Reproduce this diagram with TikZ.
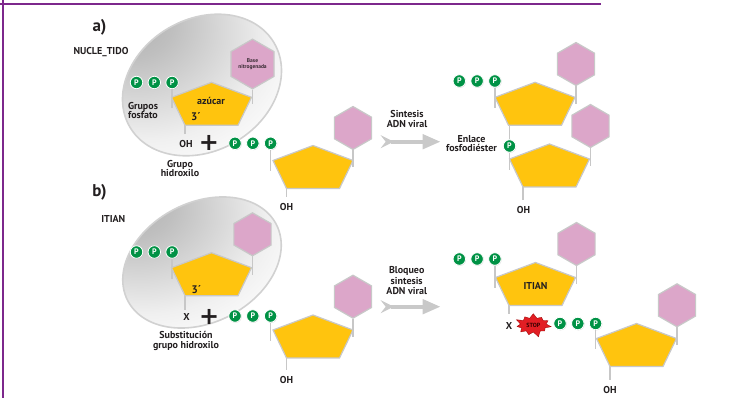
\documentclass[tikz,border=0pt]{standalone}
\usepackage{fontspec}
\setmainfont{PT Sans}
\newfontfamily\simbolo{DejaVu Sans}
\usepackage{tikz}
\usetikzlibrary{shapes.geometric, shapes.symbols, arrows.meta, positioning, calc, shadows}

\definecolor{moradoMarco}{RGB}{125,40,140}
\definecolor{verdeFosf}{RGB}{0,146,69}
\definecolor{amarilloAz}{RGB}{255,196,14}
\definecolor{rosaBase}{RGB}{220,166,201}
\definecolor{bordeGris}{RGB}{200,200,200}
\definecolor{textoOsc}{RGB}{35,31,32}
\definecolor{rojoStop}{RGB}{226,30,36}

% capas: capsula al fondo, enlaces grises debajo de las piezas
\pgfdeclarelayer{capsula}
\pgfdeclarelayer{enlaces}
\pgfsetlayers{capsula,enlaces,main}

\pgfdeclareradialshading{brillo}{\pgfpoint{-22bp}{24bp}}{%
  color(0bp)=(black!32); color(12bp)=(black!25); color(34bp)=(black!6);
  color(46bp)=(white); color(120bp)=(white)}

\begin{document}
\begin{tikzpicture}[x=1pt, y=-1pt,
  fosf/.style={circle, fill=verdeFosf, draw=white, line width=0.8pt,
               minimum size=12.5pt, inner sep=0pt, text=white,
               font=\fontsize{8}{8}\selectfont\bfseries,
               drop shadow={shadow xshift=0.5pt, shadow yshift=-0.6pt, opacity=0.3}},
  base/.style={regular polygon, regular polygon sides=6, regular polygon rotate=30,
               minimum size=43pt, inner sep=0pt, fill=rosaBase, draw=bordeGris,
               line width=1.2pt},
  etiq/.style={text=textoOsc, font=\fontsize{10}{9.5}\selectfont\bfseries,
               align=center, inner sep=1pt},
  titulo/.style={etiq, font=\fontsize{17}{17}\selectfont\bfseries},
  mas/.style={etiq, font=\fontsize{24}{24}\selectfont\simbolo\bfseries},
  enlace/.style={draw=black!22, line width=1.5pt},
  flecha/.style={draw=black!21, line width=4.3pt,
                 {Stealth[reversed, length=13pt, width=13pt, inset=5pt]}-{Triangle[length=18pt, width=14pt]}},
  marco/.style={draw=moradoMarco, line width=2.3pt},
  capsula/.style={draw=black!18, line width=1.6pt, shading=brillo},
  parada/.style={starburst, starburst points=11, starburst point height=6pt,
                 fill=rojoStop, draw=red!60!black, line width=0.3pt,
                 minimum width=38pt, minimum height=26pt, inner sep=0pt,
                 text=black!80!red, font=\fontsize{6}{6}\selectfont\bfseries},
  azucar/.pic={
    \filldraw[fill=amarilloAz, draw=bordeGris, line width=1.2pt]
      (0,-22) -- (40,-7) -- (26.5,21) -- (-26.5,21) -- (-40,-7) -- cycle;
    \coordinate (-c) at (0,0);
    \coordinate (-lo) at (-40,4);
    \coordinate (-bl) at (-26.5,21);
  }
]
\useasboundingbox (0,0) rectangle (756,398);

% marco morado
\draw[marco] (0,4) -- (601,4);
\draw[marco] (2.7,0) -- (2.7,398);

%% ---------------- a) ----------------
\node[titulo] (letraA) at (99.5,27) {a)};
\node[etiq] (nucleo) at (101,52) {NUCLE\_TIDO};

\begin{pgfonlayer}{capsula}
  \path[capsula, shift={(202,85)}, rotate=30] (0,0) ellipse [x radius=83.5, y radius=66];
\end{pgfonlayer}

% nucleotido dentro de la capsula
\node[fosf] (pa1) at (136.5,82.5) {P};
\node[fosf, right=4.5pt of pa1] (pa2) {P};
\node[fosf, right=4.5pt of pa2] (pa3) {P};
\pic (az1) at (211.5,104.3) {azucar};
\node[base, etiq, font=\fontsize{5.5}{6}\selectfont\bfseries, text=black!75!rosaBase] (hx1) at (252.5,64) {Base\\nitrogenada};
\node[etiq] (azu) at (211,101) {azúcar};
\node[etiq, font=\fontsize{11}{11}\selectfont\bfseries] (tres1) at (196,117) {3´};
\node[etiq] (grupos) at (143,110.5) {Grupos\\fosfato};
\node[etiq] (oh1) at (186,144.3) {OH};
\node[mas] (masA) at (209,143.3) {+};
\node[etiq] (hidrox) at (180,168.5) {Grupo\\hidroxilo};

% nucleotido libre
\node[fosf] (pb1) at (235,143.3) {P};
\node[fosf, right=4.5pt of pb1] (pb2) {P};
\node[fosf, right=4.5pt of pb2] (pb3) {P};
\pic (az2) at (313,167.5) {azucar};
\node[base] (hx2) at (353,128) {};
\node[etiq] (oh2) at (286.5,207.3) {OH};

% flecha de sintesis
\coordinate (fa1) at (380.7,141.7);
\coordinate (fa2) at (440.7,141.7);
\draw[flecha] (fa1) -- (fa2);
\node[etiq] (sint) at (407,119) {Sintesis\\ADN viral};

% cadena resultante
\node[fosf] (pr1) at (459.3,81) {P};
\node[fosf, right=4.5pt of pr1] (pr2) {P};
\node[fosf, right=4.5pt of pr2] (pr3) {P};
\pic (az3) at (535,104.3) {azucar};
\node[base] (hx3) at (576,64) {};
\node[fosf] (pe) at (509.5,146) {P};
\node[etiq] (enl) at (471.5,143.5) {Enlace\\fosfodiéster};
\pic (az4) at (549.5,166) {azucar};
\node[base] (hx4) at (590.5,126) {};
\node[etiq] (oh3) at (523.5,210) {OH};

%% ---------------- b) ----------------
\node[titulo] (letraB) at (99.5,192) {b)};
\node[etiq] (itian) at (113.3,219) {ITIAN};

\begin{pgfonlayer}{capsula}
  \path[capsula, shift={(202,262.5)}, rotate=27] (0,0) ellipse [x radius=83.5, y radius=60];
\end{pgfonlayer}

\node[fosf] (pc1) at (136.5,252) {P};
\node[fosf, right=4.5pt of pc1] (pc2) {P};
\node[fosf, right=4.5pt of pc2] (pc3) {P};
\pic (az5) at (211.5,274.7) {azucar};
\node[base] (hx5) at (252.5,234.3) {};
\node[etiq, font=\fontsize{11}{11}\selectfont\bfseries] (tres2) at (196.5,289.3) {3´};
\node[etiq] (x1) at (186.5,317.3) {X};
\node[mas] (masB) at (209.3,317) {+};
\node[etiq] (subst) at (186,341) {Substitución\\grupo hidroxilo};

\node[fosf] (pd1) at (235,316) {P};
\node[fosf, right=4.5pt of pd1] (pd2) {P};
\node[fosf, right=4.5pt of pd2] (pd3) {P};
\pic (az6) at (313,337) {azucar};
\node[base] (hx6) at (353,296.7) {};
\node[etiq] (oh4) at (286.5,380) {OH};

% flecha de bloqueo
\coordinate (fb1) at (380.7,306.7);
\coordinate (fb2) at (440.7,306.7);
\draw[flecha] (fb1) -- (fb2);
\node[etiq, font=\fontsize{10}{10.5}\selectfont\bfseries] (bloq) at (406.7,281) {Bloqueo\\sintesis\\ADN viral};

% cadena bloqueada
\node[fosf] (ps1) at (459.3,259) {P};
\node[fosf, right=4.5pt of ps1] (ps2) {P};
\node[fosf, right=4.5pt of ps2] (ps3) {P};
\pic (az7) at (535.5,284.5) {azucar};
\node[base] (hx7) at (576.5,244) {};
\node[etiq] (itian2) at (535.5,286) {ITIAN};
\node[etiq] (x2) at (509,325.7) {X};
\node[parada] (stop) at (533.3,325) {STOP};
\node[fosf] (pt1) at (560,323.5) {P};
\node[fosf, right=4.5pt of pt1] (pt2) {P};
\node[fosf, right=4.5pt of pt2] (pt3) {P};
\pic (az8) at (636.5,345.5) {azucar};
\node[base] (hx8) at (677,305.3) {};
\node[etiq] (oh5) at (610,390) {OH};

% enlaces grises
\begin{pgfonlayer}{enlaces}
  \draw[enlace] (pa3) -- (pa3 |- az1-lo);
  \draw[enlace] (hx1.south) -- (hx1.south |- az1-c);
  \draw[enlace, shorten >=5pt] (az1-bl) -- (az1-bl |- oh1.north);
  \draw[enlace] (pb3) -- (pb3 |- az2-lo);
  \draw[enlace] (hx2.south) -- (hx2.south |- az2-c);
  \draw[enlace, shorten >=5pt] (az2-bl) -- (az2-bl |- oh2.north);
  \draw[enlace] (pr3) -- (pr3 |- az3-lo);
  \draw[enlace] (hx3.south) -- (hx3.south |- az3-c);
  \draw[enlace] (pe |- az3-c) -- (pe);
  \draw[enlace] (pe) -- (pe |- az4-lo);
  \draw[enlace] (hx4.south) -- (hx4.south |- az4-c);
  \draw[enlace, shorten >=5pt] (az4-bl) -- (az4-bl |- oh3.north);
  \draw[enlace] (pc3) -- (pc3 |- az5-lo);
  \draw[enlace] (hx5.south) -- (hx5.south |- az5-c);
  \draw[enlace, shorten >=3pt] (az5-bl) -- (az5-bl |- x1.north);
  \draw[enlace] (pd3) -- (pd3 |- az6-lo);
  \draw[enlace] (hx6.south) -- (hx6.south |- az6-c);
  \draw[enlace, shorten >=5pt] (az6-bl) -- (az6-bl |- oh4.north);
  \draw[enlace] (ps3) -- (ps3 |- az7-lo);
  \draw[enlace] (hx7.south) -- (hx7.south |- az7-c);
  \draw[enlace, shorten >=7pt] (az7-bl) -- (az7-bl |- x2.north);
  \draw[enlace] (pt3) -- (pt3 |- az8-lo);
  \draw[enlace] (hx8.south) -- (hx8.south |- az8-c);
  \draw[enlace, shorten >=5pt] (az8-bl) -- (az8-bl |- oh5.north);
\end{pgfonlayer}

\end{tikzpicture}
\end{document}
